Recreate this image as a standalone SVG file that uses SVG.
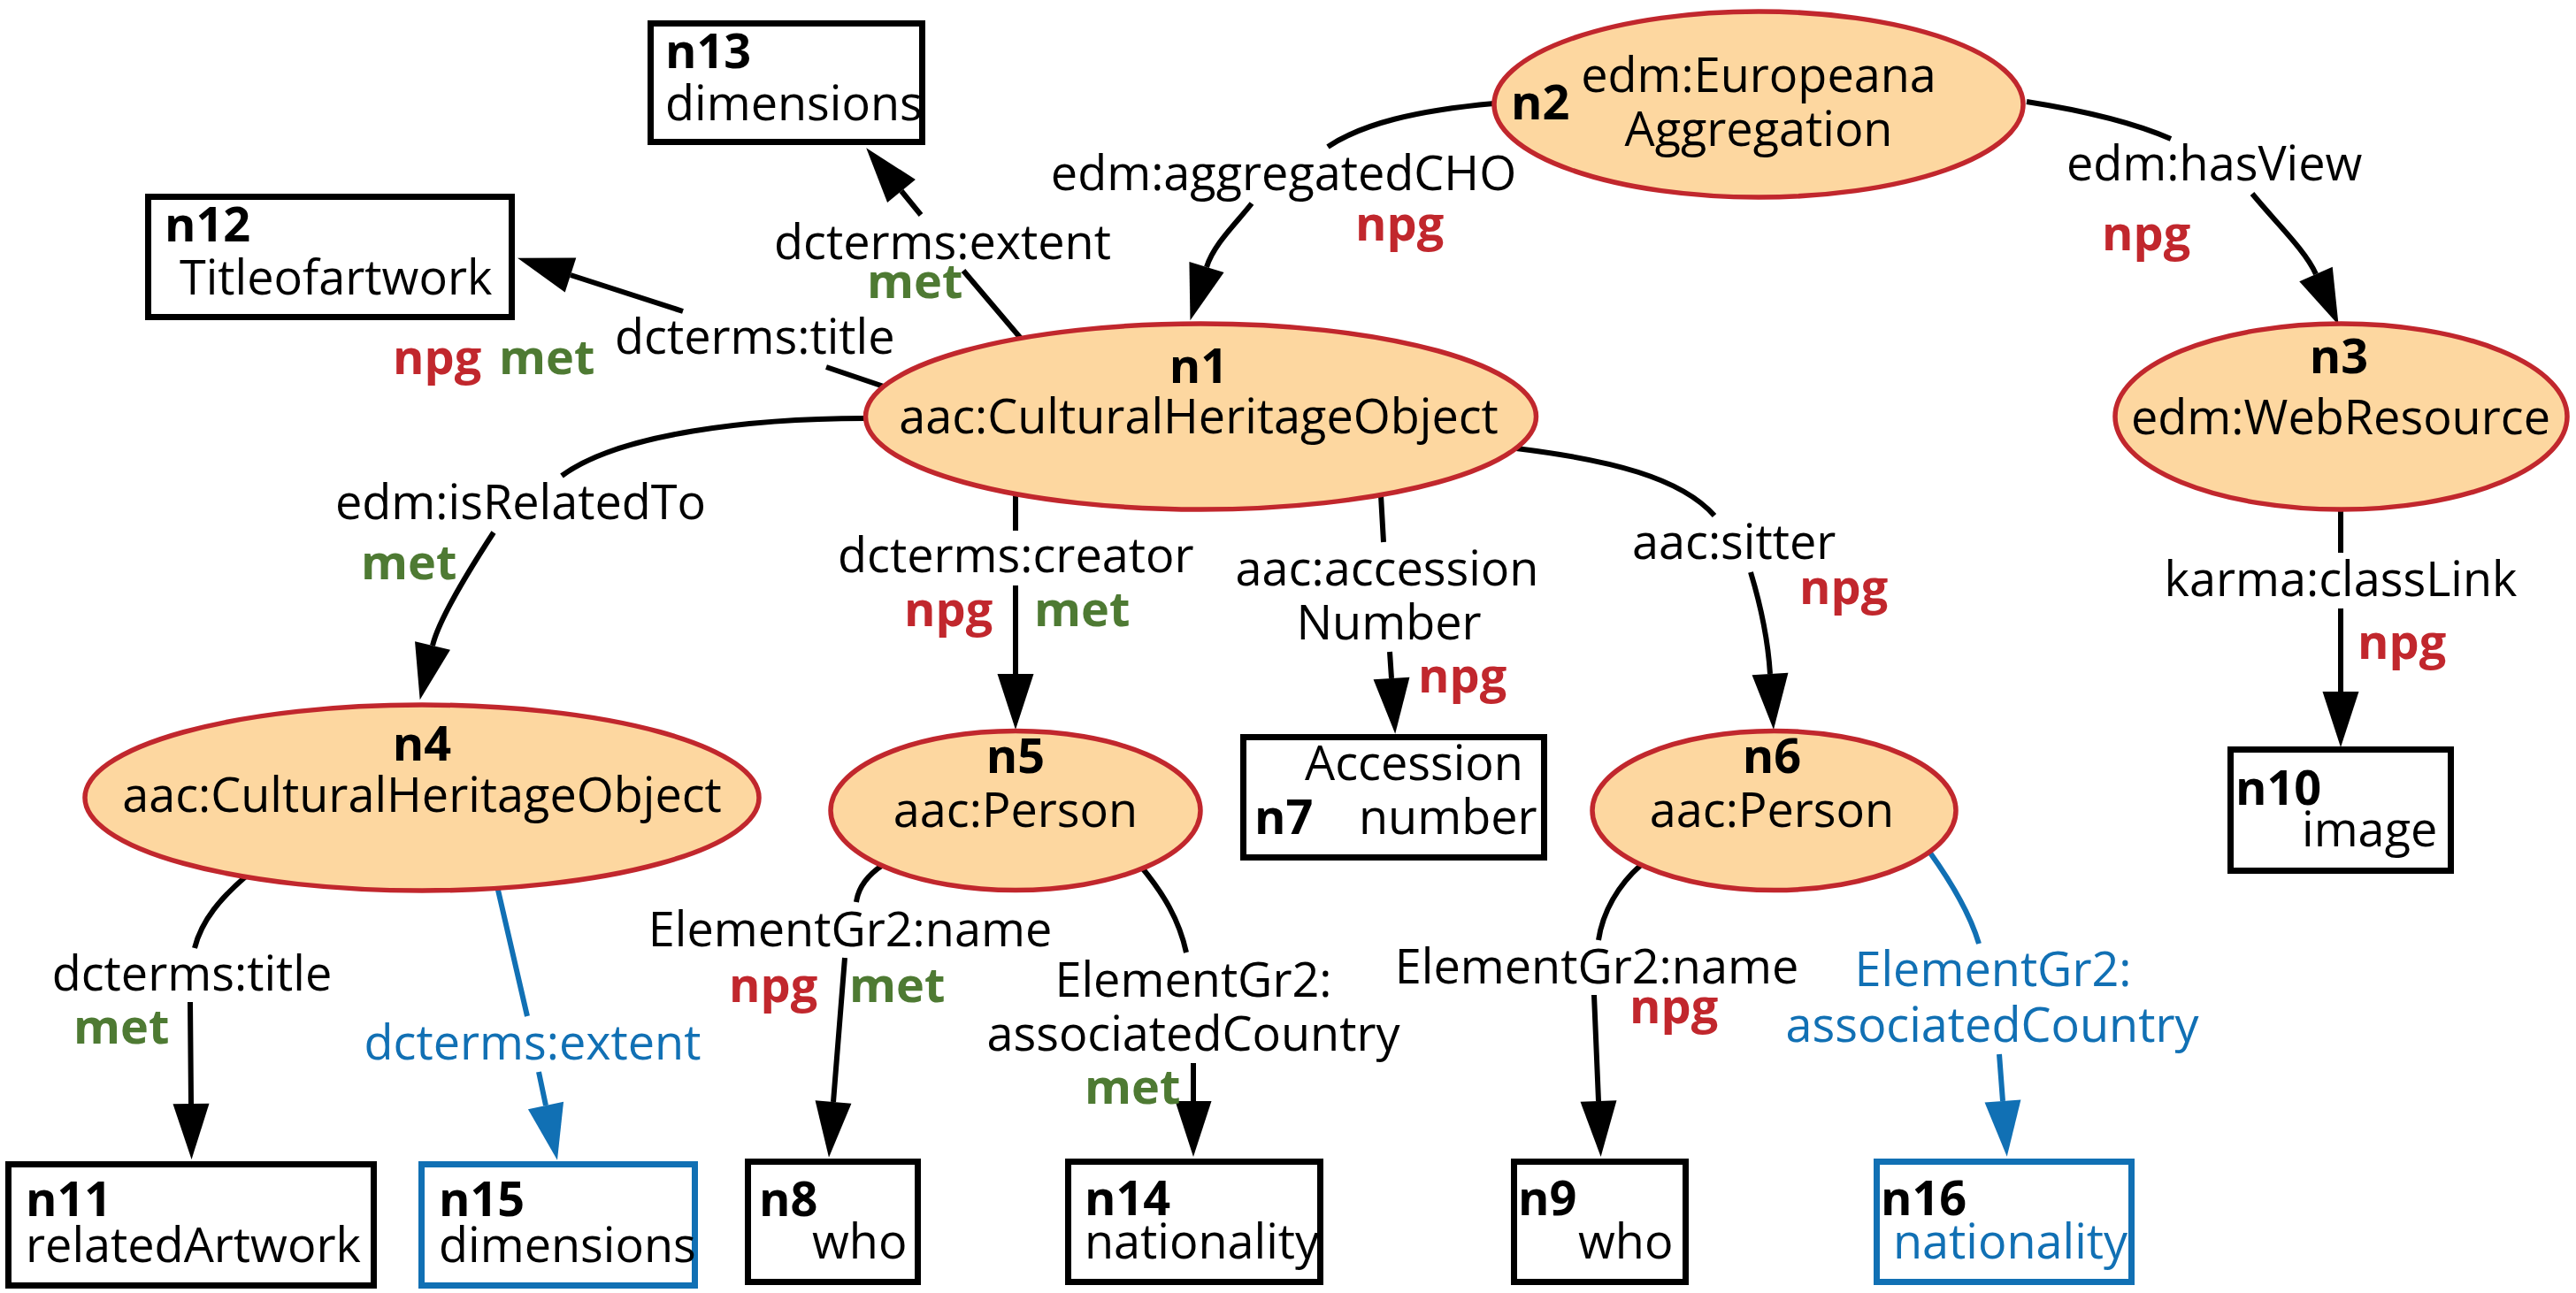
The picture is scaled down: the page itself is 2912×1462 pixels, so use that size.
<svg xmlns="http://www.w3.org/2000/svg" width="2912" height="1462" viewBox="0 0 2912 1462">
<style>
.t{font-family:"Open Sans","Liberation Sans",sans-serif;font-size:54px;fill:#000}
.b{font-weight:bold}
.m{text-anchor:middle}
.npg{fill:#C1272D;font-weight:bold}
.met{fill:#4E7A33;font-weight:bold}
.bl{fill:#1170B4}
.ell{fill:#FDD7A0;stroke:#C1272D;stroke-width:5.5}
.box{fill:#fff;stroke:#000;stroke-width:7}
.bbox{fill:#fff;stroke:#1170B4;stroke-width:7}
.e{fill:none;stroke:#000;stroke-width:6;marker-end:url(#ah)}
.eb{fill:none;stroke:#1170B4;stroke-width:6;marker-end:url(#ahb)}
</style>
<defs>
<marker id="ah" markerUnits="userSpaceOnUse" markerWidth="64" markerHeight="42" refX="0" refY="20.5" orient="auto" overflow="visible"><path d="M0,0 L63,20.5 L0,41 Z" fill="#000"/></marker>
<marker id="ahb" markerUnits="userSpaceOnUse" markerWidth="64" markerHeight="42" refX="0" refY="20.5" orient="auto" overflow="visible"><path d="M0,0 L63,20.5 L0,41 Z" fill="#1170B4"/></marker>
</defs>
<rect width="2912" height="1462" fill="#fff"/>
<g id="connectors">
<path class="e" d="M1689,117 C1600,125 1540,140 1501,166 M1415,230 C1398,252 1372,276 1364,302"/>
<path class="e" d="M1156,385 L1089,306 M1041,243 L1019,216"/>
<path class="e" d="M999,437 L934,415 M772,352 L645,311"/>
<path class="e" d="M2291,115 C2355,125 2415,140 2454,157 M2546,219 C2573,252 2606,283 2618,310"/>
<path class="e" d="M2646,578 L2646,625 M2646,688 L2646,782"/>
<path class="e" d="M978,473 C850,473 700,490 635,538 M558,602 C530,645 496,700 489,730"/>
<path class="e" d="M1148,559 L1148,600 M1148,662 L1148,762"/>
<path class="e" d="M1561,560 L1564,613 M1571,737 L1573,767"/>
<path class="e" d="M1714,507 C1820,520 1900,540 1938,583 M1979,647 C1992,690 1999,730 2001,762"/>
<path class="e" d="M279,990 C250,1015 228,1040 220,1072 M215,1133 L216,1248"/>
<path class="eb" d="M562,1002 L596,1149 M609,1212 L617,1250"/>
<path class="e" d="M998,978 C980,990 970,1005 968,1020 M955,1083 L942,1246"/>
<path class="e" d="M1290,980 C1315,1010 1333,1040 1341,1077 M1349,1202 L1349,1245"/>
<path class="e" d="M1855,978 C1830,1000 1812,1030 1807,1063 M1802,1125 L1807,1245"/>
<path class="eb" d="M2181,963 C2204,995 2226,1030 2237,1067 M2260,1192 L2264,1245"/>
<g id="edge-labels">
<text class="t m" x="1451" y="215">edm:aggregatedCHO</text>
<text class="t npg" x="1532" y="272">npg</text>
<text class="t" x="875" y="293">dcterms:extent</text>
<text class="t met" x="980" y="337">met</text>
<text class="t" x="695" y="400">dcterms:title</text>
<text class="t npg" x="444" y="423">npg</text>
<text class="t met" x="564" y="423">met</text>
<text class="t" x="2336" y="204">edm:hasView</text>
<text class="t npg" x="2376" y="283">npg</text>
<text class="t m" x="2646" y="674">karma:classLink</text>
<text class="t npg" x="2665" y="745">npg</text>
<text class="t" x="379" y="587">edm:isRelatedTo</text>
<text class="t met" x="408" y="655">met</text>
<text class="t" x="947" y="647">dcterms:creator</text>
<text class="t npg" x="1022" y="708">npg</text>
<text class="t met" x="1169" y="708">met</text>
<text class="t m" x="1568" y="662">aac:accession</text>
<text class="t m" x="1570" y="723">Number</text>
<text class="t npg" x="1603" y="783">npg</text>
<text class="t" x="1845" y="632">aac:sitter</text>
<text class="t npg" x="2034" y="683">npg</text>
<text class="t m" x="217" y="1120">dcterms:title</text>
<text class="t met" x="83" y="1180">met</text>
<text class="t bl m" x="602" y="1198">dcterms:extent</text>
<text class="t m" x="961" y="1070">ElementGr2:name</text>
<text class="t npg" x="824" y="1133">npg</text>
<text class="t met" x="960" y="1133">met</text>
<text class="t m" x="1349" y="1127">ElementGr2:</text>
<text class="t m" x="1349" y="1188">associatedCountry</text>
<text class="t met" x="1226" y="1248">met</text>
<text class="t m" x="1805" y="1112">ElementGr2:name</text>
<text class="t npg" x="1842" y="1157">npg</text>
<text class="t bl m" x="2253" y="1115">ElementGr2:</text>
<text class="t bl m" x="2252" y="1178">associatedCountry</text>
</g>
</g>
<g id="n1"><ellipse class="ell" cx="1357.5" cy="471" rx="379" ry="105"/><text class="t b m" x="1355" y="433">n1</text><text class="t m" x="1355" y="490">aac:CulturalHeritageObject</text></g>
<g id="n2"><ellipse class="ell" cx="1988" cy="118" rx="299" ry="105"/><text class="t b" x="1708" y="135">n2</text><text class="t m" x="1988" y="104">edm:Europeana</text><text class="t m" x="1988" y="165">Aggregation</text></g>
<g id="n3"><ellipse class="ell" cx="2646.5" cy="471" rx="255.5" ry="105"/><text class="t b m" x="2644" y="422">n3</text><text class="t m" x="2646" y="491">edm:WebResource</text></g>
<g id="n4"><ellipse class="ell" cx="477" cy="902" rx="381" ry="105"/><text class="t b m" x="477" y="860">n4</text><text class="t m" x="477" y="918">aac:CulturalHeritageObject</text></g>
<g id="n5"><ellipse class="ell" cx="1148" cy="916.5" rx="209" ry="90"/><text class="t b m" x="1148" y="874">n5</text><text class="t m" x="1148" y="935">aac:Person</text></g>
<g id="n6"><ellipse class="ell" cx="2005.5" cy="916.5" rx="205.5" ry="90"/><text class="t b m" x="2003" y="874">n6</text><text class="t m" x="2003" y="935">aac:Person</text></g>
<g id="n7"><rect class="box" x="1405.5" y="833.5" width="340" height="136"/><text class="t" x="1475" y="882">Accession</text><text class="t b" x="1418" y="943">n7</text><text class="t" x="1536" y="943">number</text></g>
<g id="n8"><rect class="box" x="845.5" y="1313.5" width="192" height="136"/><text class="t b" x="858" y="1375">n8</text><text class="t" x="918" y="1423">who</text></g>
<g id="n9"><rect class="box" x="1711.5" y="1313.5" width="194" height="136"/><text class="t b" x="1716" y="1374">n9</text><text class="t" x="1784" y="1423">who</text></g>
<g id="n10"><rect class="box" x="2521.5" y="847.5" width="249" height="137"/><text class="t b" x="2527" y="910">n10</text><text class="t" x="2602" y="957">image</text></g>
<g id="n11"><rect class="box" x="9.5" y="1316.5" width="413" height="137"/><text class="t b" x="29" y="1375">n11</text><text class="t" x="29" y="1427">relatedArtwork</text></g>
<g id="n12"><rect class="box" x="167.5" y="222.5" width="411" height="136"/><text class="t b" x="186" y="273">n12</text><text class="t" x="203" y="333">Titleofartwork</text></g>
<g id="n13"><rect class="box" x="735.5" y="26.5" width="307" height="134"/><text class="t b" x="752" y="77">n13</text><text class="t" x="752" y="136">dimensions</text></g>
<g id="n14"><rect class="box" x="1207.5" y="1313.5" width="285" height="136"/><text class="t b" x="1226" y="1374">n14</text><text class="t" x="1226" y="1423">nationality</text></g>
<g id="n15"><rect class="bbox" x="476.5" y="1316.5" width="309" height="137"/><text class="t b" x="496" y="1375">n15</text><text class="t" x="496" y="1427">dimensions</text></g>
<g id="n16"><rect class="bbox" x="2121.5" y="1313.5" width="288" height="136"/><text class="t b" x="2126" y="1374">n16</text><text class="t bl" x="2140" y="1423">nationality</text></g>
</svg>
